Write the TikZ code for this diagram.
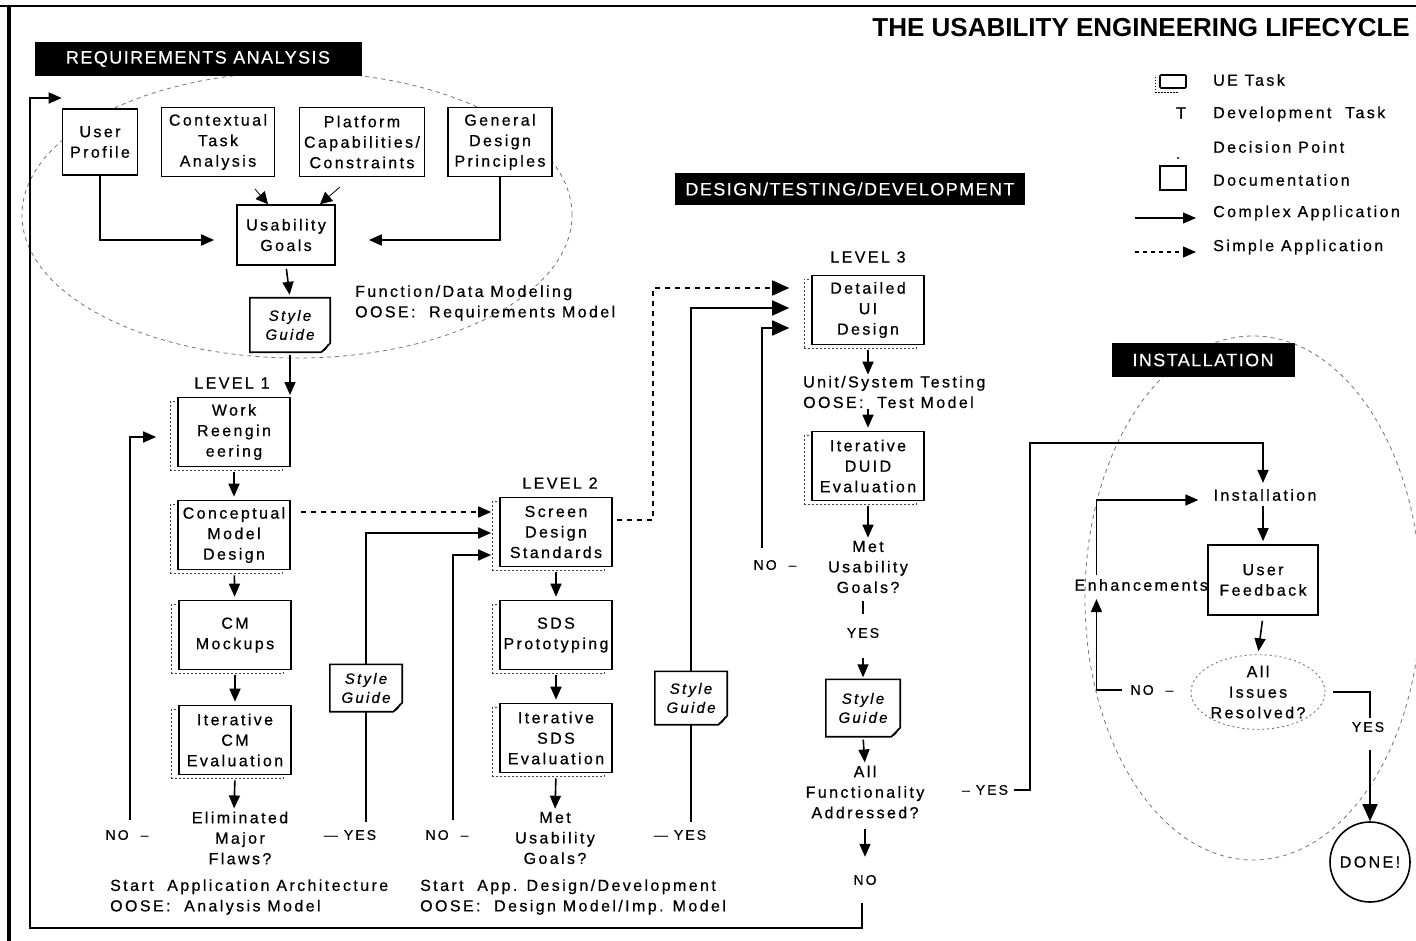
\documentclass[tikz,border=0pt]{standalone}
\usepackage{fontspec}
\setmainfont{Liberation Sans}[LetterSpace=15,FakeBold=0.6]
\newfontfamily\labelfont{Liberation Sans}[LetterSpace=8,FakeBold=0.4]
\newfontfamily\titlefont{Liberation Sans}
\usetikzlibrary{arrows.meta,shadows,calc,shapes.geometric}

% outline of a documentation sheet with a curled lower right corner
\newcommand\docframe[1]{%
  \draw[line width=1.6pt] (#1.north west) -- (#1.north east) -- ($(#1.south east)+(0,-9)$)
    -- ($(#1.south east)+(-9,0)$) -- (#1.south west) -- cycle;
  \draw[line width=1pt] ($(#1.south east)+(-9,0)$) .. controls ($(#1.south east)+(-4,-3)$) .. ($(#1.south east)+(-2,-8)$);
}

\begin{document}
\begin{tikzpicture}[x=1pt,y=-1pt,
  every node/.style={inner sep=0pt, font=\fontsize{16}{20.5}\selectfont},
  box/.style={draw, line width=1.6pt, fill=white, align=center, minimum width=112pt, minimum height=69pt},
  uebox/.style={box, general shadow={shadow xshift=-8pt, shadow yshift=-4pt, draw=black!75, line width=0.7pt, dash pattern=on 2pt off 2pt}},
  doc/.style={fill=white, align=center, minimum width=76pt, minimum height=52pt, font=\itshape\fontsize{15}{19}\selectfont},
  dec/.style={align=center},
  tag/.style={font=\fontsize{14}{16}\selectfont},
  blabel/.style={fill=black, text=white, minimum height=34pt, font=\labelfont\fontsize{18}{20}\selectfont},
  zone/.style={ellipse, draw=black!55, line width=0.8pt, dash pattern=on 4pt off 4pt},
  conn/.style={line width=1.6pt},
  arr/.style={conn, -{Triangle[length=13pt,width=11pt]}},
  bigarr/.style={conn, -{Triangle[length=17pt,width=15pt]}},
  darr/.style={arr, dash pattern=on 5pt off 5pt},
  bigdarr/.style={bigarr, dash pattern=on 5pt off 5pt},
  flow/.style={arr, shorten <=5pt, shorten >=3pt},
  thinarr/.style={line width=0.8pt, -{Triangle[length=12pt,width=12pt]}}
]
\useasboundingbox (0,0) rectangle (1416,941);

% page frame
\draw[line width=2pt] (0,6) -- (1416,6);
\draw[line width=3.5pt] (9,6) -- (9,941);

% phase zones
\node[zone, minimum width=550pt, minimum height=286pt] (reqzone) at (297,215) {};
\node[zone, minimum width=336pt, minimum height=524pt] (instzone) at (1253,598) {};

% title and phase labels
\node[font=\titlefont\bfseries\fontsize{26}{30}\selectfont, anchor=east] (title) at (1410,28) {THE USABILITY ENGINEERING LIFECYCLE};
\node[blabel, minimum width=327pt] (reqlab) at (198,59) {REQUIREMENTS ANALYSIS};
\node[blabel, minimum width=350pt, minimum height=32pt] (dtdlab) at (850,189) {DESIGN/TESTING/DEVELOPMENT};
\node[blabel, minimum width=183pt] (instlab) at (1203,360) {INSTALLATION};

% legend
\draw[line width=1.6pt, rounded corners=1pt] (1160,75) rectangle (1186,88);
\draw[line width=0.6pt, dash pattern=on 1.5pt off 1.5pt] (1155,77) -- (1155,92) -- (1178,92);
\node[anchor=west] (lg1) at (1213,80) {UE Task};
\node (lgT) at (1181,113) {T};
\node[anchor=west] (lg2) at (1213,114) {Development\ \ Task};
\fill (1178,158) circle (1.2pt);
\node[anchor=west] (lg3) at (1213,147) {Decision Point};
\draw[line width=1.6pt] (1160,166) rectangle (1186,190);
\node[anchor=west] (lg4) at (1213,180) {Documentation};
\node[anchor=west] (lg5) at (1213,213) {Complex Application};
\node[anchor=west] (lg6) at (1213,247) {Simple Application};
\coordinate (ca0) at (1135,218);
\coordinate (sa0) at (1135,252);
\draw[arr, line width=1.2pt, shorten >=17pt] (ca0) -- (ca0 -| lg5.west);
\draw[darr, line width=1.2pt, dash pattern=on 4pt off 4pt, shorten >=17pt] (sa0) -- (sa0 -| lg6.west);

% ---------------- requirements analysis ----------------
\node[box, minimum width=75pt, minimum height=66pt] (up) at (100,142) {User\\Profile};
\node[box, minimum width=113pt] (cta) at (218,142) {Contextual\\Task\\Analysis};
\node[box, minimum width=125pt] (pcc) at (362,142) {Platform\\Capabilities/\\Constraints};
\node[box, minimum width=104pt] (gdp) at (500,142) {General\\Design\\Principles};
\node[box, minimum width=98pt, minimum height=60pt] (ug) at (286,235) {Usability\\Goals};
\node[doc, minimum width=80pt, minimum height=54pt] (sg1) at (290,325) {Style\\Guide};
\docframe{sg1}
\node[anchor=west, align=left] (fdm) at (355,303) {Function/Data Modeling\\OOSE:\ \ Requirements Model};

\draw[arr] (up.south) |- ($(ug.west)+(-22,5)$);
\draw[arr] (gdp.south) |- ($(ug.east)+(33,5)$);
\draw[thinarr] (255,189) -- ($(ug.north)+(-18,0)$);
\draw[thinarr] (340,187) -- ($(ug.north)+(34,0)$);
\draw[arr, shorten <=3pt, shorten >=3pt] (ug.south) -- (sg1.north);

% ---------------- level 1 ----------------
\node (lev1) at (232,383) {LEVEL 1};
\draw[arr, shorten <=3pt, shorten >=2pt] (sg1.south) -- (sg1.south |- 0,397);
\node[uebox] (wr) at (234,432) {Work\\Reengin\\eering};
\node[uebox] (cmd) at (234,535) {Conceptual\\Model\\Design};
\node[uebox] (cmm) at (235,635) {CM\\Mockups};
\node[uebox] (icm) at (235,740) {Iterative\\CM\\Evaluation};
\node[dec] (elim) at (240,838) {Eliminated\\Major\\Flaws?};
\node[tag] (no1) at (127,835) {NO\ \ --};
\node[tag] (yes1) at (350,835) {---\ YES};
\node[doc, minimum width=72pt, minimum height=47pt] (sg2) at (366,688) {Style\\Guide};
\docframe{sg2}
\node[anchor=west, align=left] (start1) at (110,897) {Start\ \ Application Architecture\\OOSE:\ \ Analysis Model};

\draw[flow] (wr) -- (cmd);
\draw[flow] (cmd) -- (cmm);
\draw[flow] (cmm) -- (icm);
\draw[flow] (icm.south) -- ($(elim.north)+(-6,0)$);
\draw[arr] ($(no1.north)+(3,-10)$) |- ($(wr.west)+(-21,5)$);
\draw[conn] (sg2.south) -- ($(sg2.south |- yes1.north)+(0,-8)$);

% ---------------- level 2 ----------------
\node (lev2) at (560,483) {LEVEL 2};
\node[uebox] (sds) at (556,532) {Screen\\Design\\Standards};
\node[uebox] (sdsp) at (556,635) {SDS\\Prototyping};
\node[uebox] (isds) at (556,738) {Iterative\\SDS\\Evaluation};
\node[dec] (met2) at (555,838) {Met\\Usability\\Goals?};
\node[tag] (no2) at (447,835) {NO\ \ --};
\node[tag] (yes2) at (680,835) {---\ YES};
\node[doc, minimum width=72pt, minimum height=53pt] (sg3) at (691,698) {Style\\Guide};
\docframe{sg3}
\node[anchor=west, align=left] (start2) at (420,897) {Start\ \ App. Design/Development\\OOSE:\ \ Design Model/Imp. Model};

\draw[darr] ($(cmd.east)+(10,-23)$) -- ($(sds.west)+(-8,-20)$);
\draw[arr] (sg2.north) |- ($(sds.west)+(-8,1)$);
\draw[arr] ($(no2.north)+(6,-10)$) |- ($(sds.west)+(-8,23)$);
\draw[flow] (sds) -- (sdsp);
\draw[flow] (sdsp) -- (isds);
\draw[flow] (isds.south) -- (met2.north);
\draw[conn] (sg3.south) -- ($(sg3.south |- yes2.north)+(0,-8)$);

% ---------------- level 3 ----------------
\node (lev3) at (868,257) {LEVEL 3};
\node[uebox] (dui) at (868,310) {Detailed\\UI\\Design};
\node[anchor=west, align=left] (ust) at (803,392) {Unit/System Testing\\OOSE:\ \ Test Model};
\node[uebox] (iduid) at (868,466) {Iterative\\DUID\\Evaluation};
\node[dec] (met3) at (868,567) {Met\\Usability\\Goals?};
\node[tag] (no3) at (775,565) {NO\ \ --};
\node[tag] (yes3) at (863,633) {YES};
\node[doc, minimum width=74pt, minimum height=57pt] (sg4) at (863,708) {Style\\Guide};
\docframe{sg4}
\node[dec] (allf) at (865,792) {All\\Functionality\\Addressed?};
\node[tag] (yes4) at (985,790) {--\ YES};
\node[tag] (no4) at (865,880) {NO};

\draw[bigdarr] ($(sds.east)+(4,-12)$) -- ++(36,0) |- ($(dui.west)+(-22,-22)$);
\draw[bigarr] (sg3.north) |- ($(dui.west)+(-22,-2)$);
\draw[bigarr] ($(no3.north)+(-13,-12)$) |- ($(dui.west)+(-22,18)$);
\draw[arr, shorten <=5pt, shorten >=1pt] (dui.south) -- (dui.south |- ust.north);
\draw[arr, shorten <=1pt, shorten >=3pt] (ust.south -| iduid.north) -- (iduid.north);
\draw[flow] (iduid.south) -- (met3.north);
\draw[line width=1.2pt] ($(met3.south)+(-5,8)$) -- ($(yes3.north)+(0,-14)$);
\draw[arr, shorten <=20pt, shorten >=2pt] (yes3.south) -- (sg4.north);
\draw[arr, shorten <=3pt, shorten >=3pt] (sg4.south) -- (allf.north);
\draw[arr, shorten <=10pt, shorten >=18pt] (allf.south) -- (no4.north);

% feedback from level 3 back to requirements analysis
\coordinate (fbl) at (30,928);
\coordinate (fbt) at (30,98);
\draw[arr] ($(no4.south)+(-3,18)$) |- (fbl) -- (fbt) -- (fbt -| up.west);

% ---------------- installation ----------------
\node (inst) at (1265,495) {Installation};
\node[box, minimum width=110pt, minimum height=70pt] (uf) at (1263,580) {User\\Feedback};
\node[anchor=east] (enh) at (1208,585) {Enhancements};
\node[ellipse, draw=black!60, line width=0.8pt, dash pattern=on 2pt off 3pt, align=center, minimum width=124pt, minimum height=72pt] (air) at (1258,692) {All\\Issues\\Resolved?};
\node[tag] (no5) at (1152,690) {NO\ \ --};
\node[tag] (yes5) at (1368,727) {YES};
\node[circle, draw, line width=1.6pt, minimum size=80pt] (done) at (1370,862) {DONE!};

\draw[arr, shorten >=6pt] ($(yes4.east)+(6,0)$) -- ++(16,0) -- ++(0,-347) -| (inst.north -| uf.north);
\draw[flow] (inst.south -| uf.north) -- (uf.north);
\draw[arr] ($(enh.north west)+(22,-4)$) |- ($(inst.west)+(-15,5)$);
\draw[flow] (uf.south) -- (air.north);
\draw[arr] ($(no5.west)+(-8,0)$) -| ($(enh.south west)+(22,8)$);
\draw[conn] ($(air.east)+(8,0)$) -| ($(yes5.north)+(2,-4)$);
\draw[bigarr] ($(yes5.south)+(2,18)$) -- (done.north);

\end{tikzpicture}
\end{document}
